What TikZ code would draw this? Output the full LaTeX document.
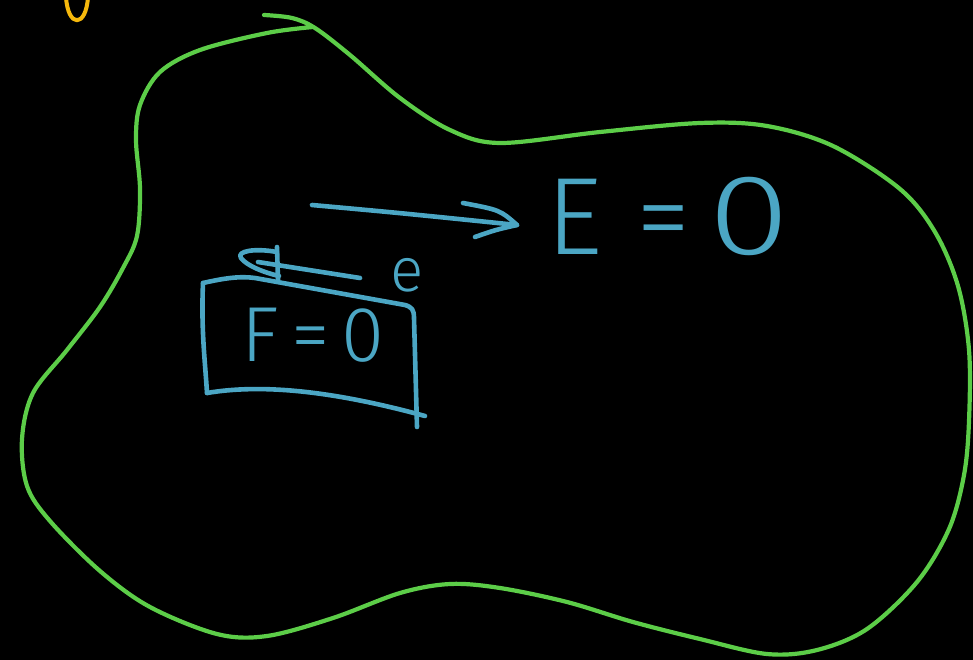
\documentclass[tikz,border=0pt]{standalone}
\usepackage{fontspec}
\newfontfamily\hand{Fira Sans Light}
\definecolor{gr}{RGB}{92,205,72}
\definecolor{bl}{RGB}{75,166,196}
\definecolor{yl}{RGB}{246,184,12}
\begin{document}
\begin{tikzpicture}[x=1pt,y=-1pt, line cap=round, line join=round,
  blob/.style={draw=gr, line width=4.2pt},
  ink/.style={draw=bl, line width=4.6pt},
  txt/.style={text=bl, inner sep=0pt}]
\fill[black] (0,0) rectangle (973,660);
\useasboundingbox (0,0) rectangle (973,660);
% yellow mark
\draw[draw=yl, line width=4pt] (66,-3) .. controls (68,28) and (86,28) .. (88,-3);
% green blob
\draw[blob] plot[smooth, tension=0.55] coordinates {
 (264,15) (292,18) (315,28) (350,55) (400,98) (450,130) (500,143) (600,132)
 (700,123) (767,126) (833,146) (900,189) (935,232) (958,286) (969,350)
 (969,421) (964,475) (949,529) (917,582) (867,629) (817,650) (767,654)
 (700,639) (633,622) (567,602) (500,588) (450,584) (400,593) (333,618)
 (267,636) (217,634) (150,607) (100,571) (50,521) (27,486) (22,439)
 (33,393) (67,350) (100,307) (123,268) (137,236) (140,189) (136,140)
 (140,105) (160,72) (200,50) (267,33) (313,27)};
% long arrow
\coordinate (a1) at (312,205);
\coordinate (a2) at (517,225);
\draw[ink] (a1) .. controls (400,213) .. (a2);
\draw[ink] (463,203) .. controls (500,210) .. (a2) .. controls (495,230) .. (475,237);
% small arrow
\coordinate (s1) at (360,278);
\coordinate (s2) at (258,262);
\draw[ink] (s1) -- (s2);
\draw[ink] (277,252) .. controls (255,248) and (236,251) .. (241,258)
  .. controls (246,265) and (262,272) .. (279,276);
\draw[ink] (277,247) -- (278,280);
% box
\draw[ink] (203,283) .. controls (225,278) and (240,276) .. (255,278)
  -- (405,305) .. controls (412,307) and (414,310) .. (414,318)
  -- (417,427);
\draw[ink] (203,283) .. controls (201,330) and (205,360) .. (207,393);
\draw[ink] (207,393) .. controls (260,384) and (330,390) .. (425,416);
% texts
\node[txt, font=\hand\fontsize{110}{110}\selectfont, anchor=base west] (E) at (546,254)
  {E\hspace{34pt}=\hspace{18pt}\scalebox{1.35}[1.04]{0}};
\node[txt, font=\hand\fontsize{78}{78}\selectfont] (F) at (313,335) {F\hspace{12pt}=\hspace{12pt}0};
\node[txt, font=\hand\fontsize{62}{62}\selectfont] (e) at (407,275) {e};
\end{tikzpicture}
\end{document}
